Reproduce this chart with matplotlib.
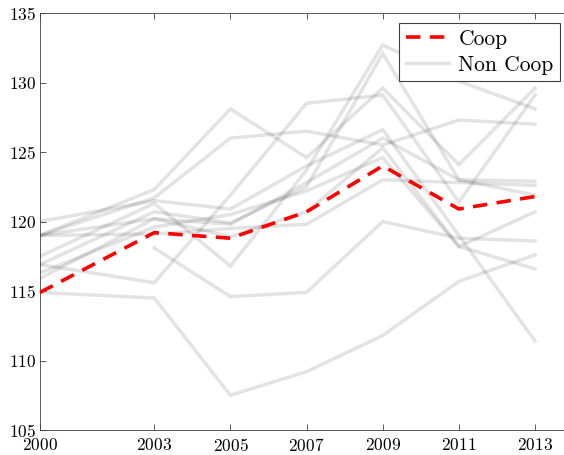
import numpy as np
import matplotlib
matplotlib.use("Agg")
import matplotlib.pyplot as plt

plt.rcParams["font.family"] = "serif"
plt.rcParams["font.serif"] = ["cmr10", "DejaVu Serif"]
plt.rcParams["mathtext.fontset"] = "cm"
plt.rcParams["axes.formatter.use_mathtext"] = True

# ------------------------------------------------------------
# data
# ------------------------------------------------------------
years = [2000, 2003, 2005, 2007, 2009, 2011, 2013]

coop = [114.9, 119.2, 118.8, 120.7, 124.0, 120.9, 121.8]

non_coop_1 = [114.9, 114.5, 107.5, 109.2, 111.8, 115.7, 117.6]
non_coop_2 = [np.nan, 118.1, 114.6, 114.9, 120.0, 118.8, 118.6]
non_coop_3 = [116.9, 115.6, 121.9, 128.5, 129.1, 121.4, 129.1]
non_coop_4 = [119.0, 122.3, 128.1, 124.6, 129.6, 124.1, 129.6]
non_coop_5 = [117.5, 121.3, 116.8, 123.7, 132.7, 130.1, 128.1]
non_coop_6 = [119.0, 121.7, 126.0, 126.5, 125.5, 127.3, 127.0]
non_coop_7 = [120.0, 121.5, 120.9, 124.0, 126.6, 119.0, 111.4]
non_coop_8 = [119.0, 120.2, 119.8, 122.8, 126.0, 123.0, 121.9]
non_coop_9 = [116.9, 120.7, 119.9, 122.5, 132.1, 123.0, 122.9]
non_coop_10 = [115.9, 120.2, 118.9, 120.7, 125.3, 118.2, 120.7]
non_coop_11 = [119.0, 119.1, 119.5, 119.8, 123.0, 122.8, 122.6]
non_coop_12 = [116.3, 119.6, 120.5, 122.2, 124.6, 118.2, 116.6]

non_coop = [non_coop_1, non_coop_2, non_coop_3, non_coop_4, non_coop_5,
            non_coop_6, non_coop_7, non_coop_8, non_coop_9, non_coop_10,
            non_coop_11, non_coop_12]

# ------------------------------------------------------------
# plot
# ------------------------------------------------------------
fig = plt.figure(figsize=(5.64, 4.55), dpi=100)
ax = fig.add_axes([0.0709, 0.0549, 0.9291, 0.9165])

coop_line, = ax.plot(years, coop, color="red", linestyle="--", linewidth=2.6,
                     dashes=(4, 2.6), zorder=3)
for i, s in enumerate(non_coop):
    ln, = ax.plot(years, s, color="black", alpha=0.11, linewidth=2.5,
                  solid_joinstyle="miter", zorder=2)
    if i == 0:
        grey_line = ln

ax.set_xlim(2000, 2013.76)
ax.set_ylim(105, 135)
ax.set_xticks(years)
ax.set_yticks([105, 110, 115, 120, 125, 130, 135])
ax.tick_params(direction="in", length=4, width=0.6, color="#404040",
               labelsize=12.5, top=True, right=False)
ax.tick_params(axis="x", pad=5)
ax.tick_params(axis="y", pad=3)
for side in ["left", "bottom", "top"]:
    ax.spines[side].set_linewidth(0.6)
    ax.spines[side].set_color("#404040")
ax.spines["right"].set_visible(False)

leg = ax.legend([coop_line, grey_line], ["Coop", "Non Coop"], loc="upper right",
                bbox_to_anchor=(0.9925, 0.977), fontsize=15.5, fancybox=False,
                framealpha=1, edgecolor="#404040", borderpad=0.3,
                labelspacing=0.3, handlelength=2.0, handletextpad=0.45,
                borderaxespad=0)
leg.get_frame().set_linewidth(0.8)

fig.savefig("out.png", dpi=100)
